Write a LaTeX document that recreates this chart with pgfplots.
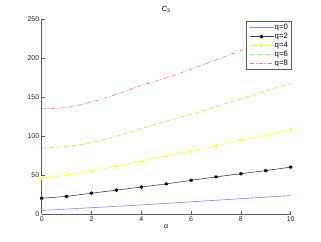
\documentclass[border=0pt]{standalone}
\usepackage{pgfplots}
\pgfplotsset{compat=1.18}
\usepackage{fontspec}
\setmainfont{Liberation Sans}
\definecolor{qblue}{rgb}{0.45,0.55,1}
\definecolor{qyel}{rgb}{1,1,0.25}
\definecolor{qgreen}{rgb}{0.65,1,0.3}
\definecolor{qred}{rgb}{1,0.45,0.45}
\definecolor{axgray}{rgb}{0.35,0.35,0.35}
\begin{document}
\begin{tikzpicture}
\begin{axis}[
  name=ax, at={(0,0)}, anchor=south west,
  scale only axis, width=249bp, height=195bp,
  xmin=0, xmax=10, ymin=0, ymax=250,
  xtick={0,2,...,10}, ytick={0,50,...,250},
  axis x line=bottom, axis y line=left,
  axis line style={-, draw=axgray, line width=0.6bp},
  tick align=inside, major tick length=3bp,
  tick style={draw=axgray, line width=0.5bp},
  /pgf/number format/assume math mode=true,
  tick label style={font=\fontsize{7}{8}\selectfont, text=black!85},
  xticklabel style={yshift=1bp},
  yticklabel style={xshift=1bp},
  xlabel={α}, xlabel style={font=\fontsize{7}{8}\selectfont, yshift=4bp},
  title={C\textsubscript{3}}, title style={font=\fontsize{7.5}{8}\selectfont, yshift=-3bp},
  legend style={at={(1.004,0.99)}, anchor=north east, draw=axgray, line width=0.8bp,
    font=\fontsize{7.8}{9}\selectfont, inner xsep=2.5bp, inner ysep=1.5bp, row sep=0.3bp, fill=white,
    nodes={inner sep=0.9bp}},
  legend cell align=left,
  legend image code/.code={\draw[line width=0.6bp, mark repeat=2,mark phase=2,#1] plot coordinates {(0bp,0bp) (12bp,0bp) (24bp,0bp)};},
]
\addplot[qblue, line width=0.6bp] coordinates {(0,5) (1,6.7) (2,8.5) (3,10.2) (4,12) (5,14) (6,16) (7,18) (8,20) (9,22) (10,24)};
\addlegendentry{q=0}
\addplot[black!75, line width=0.6bp, mark=asterisk, mark size=1.8bp, mark options={line width=0.9bp, black}] coordinates {(0,20.5) (1,23) (2,27) (3,31) (4,35) (5,39) (6,43.5) (7,48) (8,52) (9,56) (10,60.5)};
\addlegendentry{q=2}
\addplot[qyel, line width=0.6bp, mark=+, mark size=2.2bp, mark options={line width=0.5bp}] coordinates {(0,46.5) (1,50) (2,55) (3,61.5) (4,68) (5,75) (6,81) (7,88) (8,95) (9,101) (10,108.5)};
\addlegendentry{q=4}
\addplot[qgreen, line width=0.7bp, dash pattern=on 4.5bp off 3bp, smooth] coordinates {(0,85) (1,87) (2,92) (3,100) (4,110) (5,119) (6,128) (7,138) (8,148) (9,158) (10,168)};
\addlegendentry{q=6}
\addplot[qred, line width=0.6bp, dash pattern=on 4bp off 2bp on 1bp off 2bp, smooth] coordinates {(0,135.5) (1,137) (2,144) (3,154) (4,165) (5,175) (6,186) (7,198) (8,210) (9,222) (10,237)};
\addlegendentry{q=8}
\end{axis}
\pgfresetboundingbox
\path (-41.7bp,-27.7bp) rectangle (279.3bp,214.3bp);
\end{tikzpicture}
\end{document}
